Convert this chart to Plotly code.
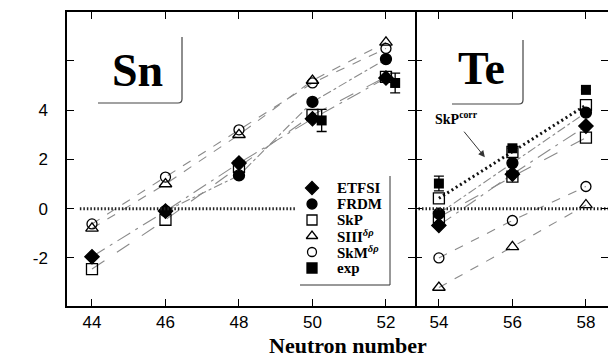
import plotly.graph_objects as go

# ---------------- data ----------------
N_sn = [44, 46, 48, 50, 52]
N_te = [54, 56, 58]

sn_etfsi = [-1.95, -0.1, 1.85, 3.65, 5.3]
sn_frdm = [None, -0.1, 1.35, 4.33, 6.07]
sn_skp = [-2.45, -0.45, 1.7, 3.8, 5.35]
sn_siii = [-0.8, 1.0, 3.0, 5.2, 6.75]
sn_skm = [-0.62, 1.28, 3.2, 5.1, 6.5]
sn_exp_N = [50, 52]
sn_exp = [3.58, 5.1]
sn_exp_err = [0.45, 0.4]

te_etfsi = [-0.68, 1.4, 3.35]
te_frdm = [-0.2, 1.85, 3.9]
te_skp = [-0.35, 1.3, 2.88]
te_skpcorr = [0.42, 2.3, 4.2]
te_siii = [-3.2, -1.55, 0.15]
te_skm = [-2.0, -0.48, 0.9]
te_exp = [1.02, 2.45, 4.82]
te_exp_err = [0.3, 0, 0]

x_ticks_sn = [44, 46, 48, 50, 52]
x_ticks_te = [54, 56, 58]
y_ticks = [-2, 0, 2, 4, 6]
y_tick_text = ["-2", "0", "2", "4", ""]

series = [
    ("ETFSI", sn_etfsi, te_etfsi, "diamond", "longdashdot"),
    ("FRDM", sn_frdm, te_frdm, "circle", "dashdot"),
    ("SkP", sn_skp, te_skp, "square-open", "longdash"),
    ("SIII<sup><i>δρ</i></sup>", sn_siii, te_siii, "triangle-up-open", "dash"),
    ("SkM<sup><i>δρ</i></sup>", sn_skm, te_skm, "circle-open", "dash"),
]
sizes = {"diamond": 11, "circle": 11, "square-open": 11,
         "triangle-up-open": 11, "circle-open": 10, "square": 10}

SERIF = "Liberation Serif"
SANS = "Liberation Sans"
LINE_C = "#8a8a8a"

fig = go.Figure()

for name, ysn, yte, sym, dash in series:
    for xs, ys, xa, ya in ((N_sn, ysn, "x", "y"), (N_te, yte, "x2", "y2")):
        fig.add_trace(go.Scatter(
            x=xs, y=ys, mode="lines", xaxis=xa, yaxis=ya,
            line=dict(color=LINE_C, width=1.1, dash=dash),
            showlegend=False, connectgaps=False, hoverinfo="skip"))

# SkP corr dotted line (Te)
fig.add_trace(go.Scatter(
    x=N_te, y=te_skpcorr, mode="lines+markers", xaxis="x2", yaxis="y2",
    line=dict(color="#111", width=3, dash="2px,3px"),
    marker=dict(symbol="square-open", size=11, color="black", line=dict(width=1.3)),
    showlegend=False))

# markers
for i, (name, ysn, yte, sym, dash) in enumerate(series):
    mk = dict(symbol=sym, size=sizes[sym], color="black",
              line=dict(width=1.3, color="black"))
    fig.add_trace(go.Scatter(x=N_sn, y=ysn, mode="markers", xaxis="x", yaxis="y",
                             marker=mk, name=name, showlegend=False))
    fig.add_trace(go.Scatter(x=N_te, y=yte, mode="markers", xaxis="x2", yaxis="y2",
                             marker=mk, name=name, showlegend=False))

exp_mk = dict(symbol="square", size=10, color="black")
fig.add_trace(go.Scatter(
    x=[n + 0.25 for n in sn_exp_N], y=sn_exp, mode="markers", xaxis="x", yaxis="y",
    marker=exp_mk, name="exp", showlegend=False,
    error_y=dict(type="data", array=sn_exp_err, color="black", thickness=1.3, width=5)))
fig.add_trace(go.Scatter(
    x=N_te, y=te_exp, mode="markers", xaxis="x2", yaxis="y2",
    marker=exp_mk, name="exp", showlegend=False,
    error_y=dict(type="data", array=te_exp_err, color="black", thickness=1.3, width=5)))

# zero dotted lines
fig.add_trace(go.Scatter(x=[43.67, 49.55], y=[0, 0], mode="lines", xaxis="x", yaxis="y",
                         line=dict(color="#222", width=3, dash="1.5px,2px"),
                         showlegend=False, hoverinfo="skip"))
fig.add_trace(go.Scatter(x=[53.35, 58.6], y=[0, 0], mode="lines", xaxis="x2", yaxis="y2",
                         line=dict(color="#222", width=3, dash="1.5px,2px"),
                         showlegend=False, hoverinfo="skip"))

# ---- manual legend on a pixel-space overlay axis ----
legend_names = [s[0] for s in series] + ["exp"]
legend_syms = [s[3] for s in series] + ["square"]
LEG_X, LEG_Y0, LEG_DY = 312, 188, 16.0
for i, (nm, sym) in enumerate(zip(legend_names, legend_syms)):
    yy = LEG_Y0 + i * LEG_DY
    fig.add_trace(go.Scatter(
        x=[LEG_X], y=[yy], mode="markers", xaxis="x3", yaxis="y3",
        marker=dict(symbol=sym, size=10 if sym != "circle-open" else 9, color="black",
                    line=dict(width=1.3, color="black")),
        showlegend=False, hoverinfo="skip"))
    fig.add_annotation(x=335, y=yy, xref="x3", yref="y3", text="<b>" + nm + "</b>",
                       showarrow=False, xanchor="left", yanchor="middle",
                       font=dict(family=SERIF, size=15, color="black"))

YR = [-3.95, 7.98]
common_ax = dict(showline=True, linecolor="black", linewidth=1.5, mirror="ticks",
                 ticks="inside", ticklen=7, tickwidth=1.3, tickcolor="black",
                 showgrid=False, zeroline=False)
SPLIT = 348 / 541
fig.update_layout(
    width=608, height=358,
    margin=dict(l=67, r=0, t=12, b=52),
    paper_bgcolor="white", plot_bgcolor="rgba(0,0,0,0)",
    showlegend=False,
    xaxis=dict(domain=[0, SPLIT], range=[43.32, 52.79], tickvals=x_ticks_sn,
               tickfont=dict(family=SANS, size=17, color="black"), anchor="y", **common_ax),
    xaxis2=dict(domain=[SPLIT, 1], range=[53.35, 58.6], tickvals=x_ticks_te,
                tickfont=dict(family=SANS, size=17, color="black"), anchor="y2", **common_ax),
    yaxis=dict(range=YR, tickvals=y_ticks, ticktext=y_tick_text, anchor="x",
               tickfont=dict(family=SANS, size=17, color="black"),
               ticklabelstandoff=14, **common_ax),
    yaxis2=dict(range=YR, tickvals=y_ticks, showticklabels=False, anchor="x2",
                showline=False, mirror="ticks", ticks="inside", ticklen=7, tickwidth=1.3,
                tickcolor="black", showgrid=False, zeroline=False),
    xaxis3=dict(domain=[0, 1], range=[67, 608], visible=False, anchor="y3"),
    yaxis3=dict(domain=[0, 1], range=[306, 12], visible=False, anchor="x3"),
)

# legend frame (right and bottom edges)
fig.add_shape(type="path", xref="x3", yref="y3",
              path="M 300,285 L 390,285 L 390,176",
              line=dict(color="#333", width=1))

# element boxes
fig.add_shape(type="path", xref="x3", yref="y3",
              path="M 98,103 L 178,103 Q 182,103 182,99 L 182,37",
              line=dict(color="#444", width=1.2))
fig.add_shape(type="path", xref="x3", yref="y3",
              path="M 452,104 L 519,104 Q 523,104 523,100 L 523,40",
              line=dict(color="#444", width=1.2))

fig.add_annotation(x=137, y=70, xref="x3", yref="y3", text="<b>Sn</b>", showarrow=False,
                   font=dict(family=SERIF, size=46, color="black"))
fig.add_annotation(x=481, y=68, xref="x3", yref="y3", text="<b>Te</b>", showarrow=False,
                   font=dict(family=SERIF, size=46, color="black"))

# SkP corr label and arrow
fig.add_annotation(x=456, y=118, xref="x3", yref="y3",
                   text="<b>SkP<sup>corr</sup></b>", showarrow=False,
                   font=dict(family=SERIF, size=14, color="black"),
                   xanchor="center", yanchor="middle")
fig.add_annotation(x=55.25, y=2.09, xref="x2", yref="y2", ax=-22, ay=-27,
                   text="", showarrow=True, arrowhead=2,
                   arrowsize=1.3, arrowwidth=1, arrowcolor="#333")

# axis titles
fig.add_annotation(xref="x3", yref="y3", x=36, y=37,
                   text="<b>S<sub>2p</sub></b>", showarrow=False,
                   font=dict(family=SERIF, size=22, color="black"), xanchor="center",
                   yanchor="middle")
fig.add_annotation(xref="x3", yref="y3", x=33, y=61,
                   text="<b>(MeV)</b>", showarrow=False,
                   font=dict(family=SERIF, size=13, color="black"), xanchor="center",
                   yanchor="middle")
fig.add_annotation(xref="paper", yref="paper", x=(348 - 67) / 541, y=-(331 - 306) / 294,
                   text="<b>Neutron number</b>", showarrow=False,
                   font=dict(family=SERIF, size=22, color="black"), xanchor="center",
                   yanchor="top")

fig.write_html("out.html", post_script="document.body.style.margin='0';",
               config={"displayModeBar": False})
